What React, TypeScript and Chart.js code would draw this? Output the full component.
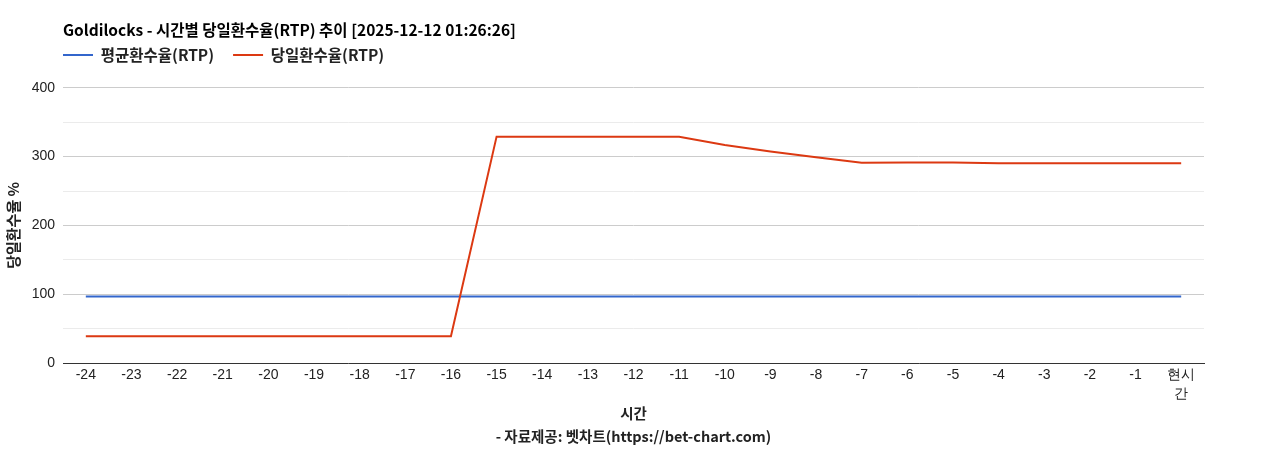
import { useEffect, useRef } from "react"
import { Chart, registerables, type Plugin } from "chart.js"

Chart.register(...registerables)

// hours before now, last one is "now"
const hours: (string | string[])[] = [
  "-24", "-23", "-22", "-21", "-20", "-19", "-18", "-17", "-16", "-15", "-14", "-13",
  "-12", "-11", "-10", "-9", "-8", "-7", "-6", "-5", "-4", "-3", "-2", "-1", ["현시", "간"],
]

const avgRtp = [
  96.5, 96.5, 96.5, 96.5, 96.5, 96.5, 96.5, 96.5, 96.5, 96.5, 96.5, 96.5, 96.5,
  96.5, 96.5, 96.5, 96.5, 96.5, 96.5, 96.5, 96.5, 96.5, 96.5, 96.5, 96.5,
]

const dailyRtp = [
  39, 39, 39, 39, 39, 39, 39, 39, 39, 329, 329, 329, 329, 329,
  317, 307.5, 299, 291, 291.5, 291.5, 290.5, 290.5, 290.5, 290.5, 290.5,
]

const chartTitle = "Goldilocks - 시간별 당일환수율(RTP) 추이 [2025-12-12 01:26:26]"
const xTitle = ["시간", "- 자료제공: 벳차트(https://bet-chart.com)"]
const yTitle = "당일환수율 %"

const tickFont = "'Liberation Sans', Arial, sans-serif"
const boldFont = "'Noto Sans CJK KR', 'Noto Sans', sans-serif"

// legend sits flush with the plot's left edge and a bit higher than chart.js puts it
const legendShift: Plugin<"line"> = {
  id: "legendShift",
  afterLayout(chart) {
    const legend = chart.legend
    if (!legend) return
    legend.left = chart.chartArea.left - 19
    legend.top = 55 - 19 - 7.75
  },
}

export default function App() {
  const canvasRef = useRef<HTMLCanvasElement>(null)
  const chartRef = useRef<Chart | null>(null)

  useEffect(() => {
    document.body.style.margin = "0"
    if (!canvasRef.current) return
    if (chartRef.current) chartRef.current.destroy()

    chartRef.current = new Chart(canvasRef.current, {
      type: "line",
      data: {
        labels: hours,
        datasets: [
          {
            label: "당일환수율(RTP)",
            data: dailyRtp,
            borderColor: "#dc3912",
            backgroundColor: "#dc3912",
            borderWidth: 2,
            pointRadius: 0,
            tension: 0,
          },
          {
            label: "평균환수율(RTP)",
            data: avgRtp,
            borderColor: "#3366cc",
            backgroundColor: "#3366cc",
            borderWidth: 2,
            pointRadius: 0,
            tension: 0,
          },
        ],
      },
      options: {
        animation: false,
        responsive: true,
        maintainAspectRatio: false,
        layout: { padding: { left: 0, right: 64, top: 0, bottom: 0 } },
        plugins: {
          title: {
            display: true,
            text: chartTitle,
            align: "start",
            fullSize: false,
            color: "#000",
            font: { family: boldFont, size: 15.5, weight: "bold", lineHeight: 1.2 },
            padding: { top: 20.7, bottom: 4 },
          },
          legend: {
            display: true,
            position: "top",
            align: "start",
            fullSize: false,
            reverse: true,
            maxHeight: 48.6,
            labels: {
              usePointStyle: true,
              pointStyle: "line",
              pointStyleWidth: 30,
              padding: 19,
              color: "#222",
              font: { family: boldFont, size: 15.5, weight: "bold" },
            },
          },
          tooltip: { enabled: false },
        },
        scales: {
          x: {
            type: "category",
            offset: true,
            grid: { display: false, drawTicks: false },
            border: { display: true, color: "#333", width: 1 },
            ticks: {
              autoSkip: false,
              maxRotation: 0,
              padding: 3,
              color: "#222",
              font: { family: tickFont, size: 14, lineHeight: 1.35 },
            },
            title: {
              display: true,
              text: xTitle,
              color: "#222",
              font: { family: boldFont, size: 14.5, weight: "bold", lineHeight: 1.58 },
              padding: { top: 0, bottom: 2 },
            },
            afterFit: (scale) => {
              scale.height = 87
            },
          },
          y: {
            min: 0,
            max: 400,
            border: { display: false },
            grid: {
              drawTicks: false,
              color: (ctx) => (ctx.tick && ctx.tick.value % 100 === 0 ? "#cccccc" : "#ebebeb"),
            },
            ticks: {
              stepSize: 50,
              padding: 8,
              color: "#222",
              font: { family: tickFont, size: 14 },
              callback: (value) => (Number(value) % 100 === 0 ? String(value) : ""),
            },
            title: {
              display: true,
              text: yTitle,
              color: "#222",
              font: { family: boldFont, size: 15, weight: "bold", lineHeight: 1.2 },
              padding: { top: 4, bottom: 0 },
            },
            afterFit: (scale) => {
              scale.width = 63
            },
          },
        },
      },
      plugins: [legendShift],
    })

    return () => {
      if (chartRef.current) {
        chartRef.current.destroy()
        chartRef.current = null
      }
    }
  }, [])

  return (
    <div style={{ width: 1268, height: 450, position: "relative" }}>
      <canvas ref={canvasRef}></canvas>
    </div>
  )
}
